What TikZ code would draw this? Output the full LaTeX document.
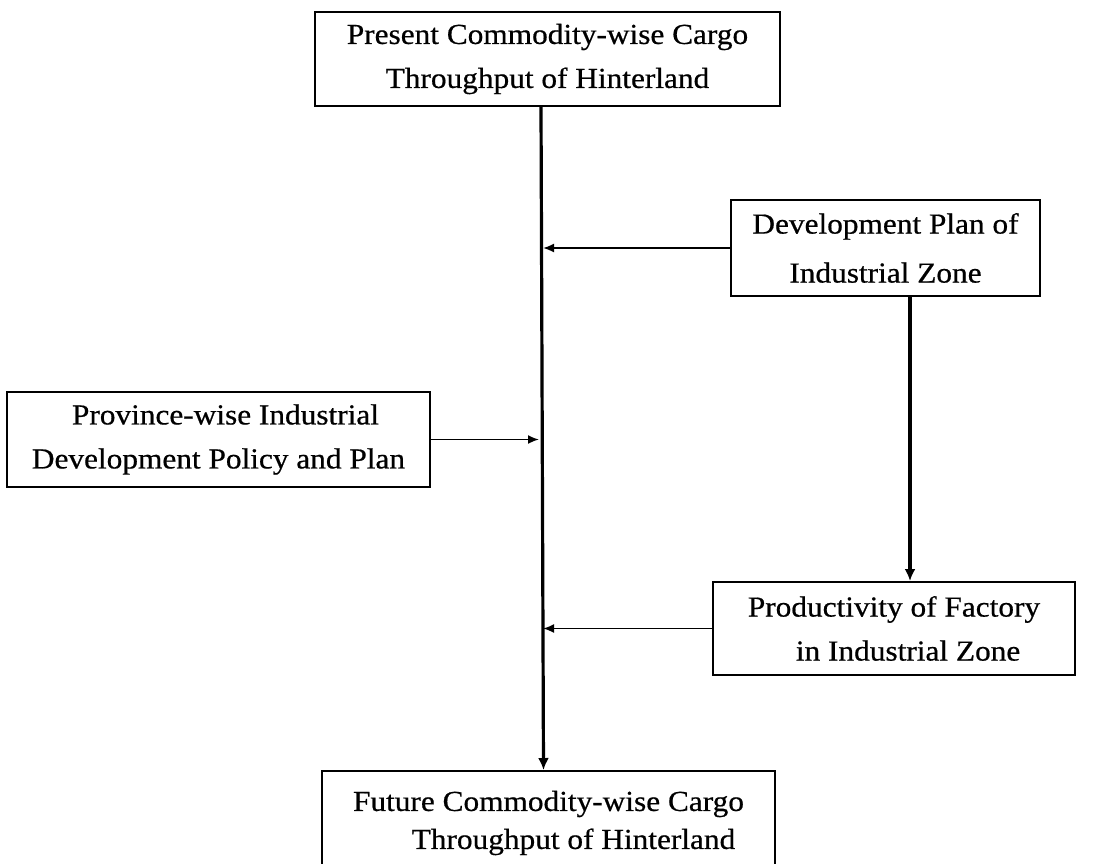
\documentclass[tikz,border=0pt]{standalone}
\usepackage{fontspec}
\setmainfont[FakeStretch=1.08,FakeBold=0.6]{Liberation Serif}
\usetikzlibrary{arrows.meta}
\begin{document}
\begin{tikzpicture}[x=1pt,y=-1pt,
  box/.style={draw,line width=2pt,rectangle,inner sep=0pt,align=center,
    font=\fontsize{29}{44}\selectfont},
  thinarr/.style={line width=1.8pt,-{Latex[length=11pt,width=9pt]}},
  thickarr/.style={line width=3.2pt,-{Latex[length=12pt,width=11pt]}}]
\useasboundingbox (0,0) rectangle (1096,863);
\clip (0,0) rectangle (1096,863);
\node[box,minimum width=465pt,minimum height=94pt] (top) at (547.5,59)
  {Present Commodity-wise Cargo\\Throughput of Hinterland};
\node[box,minimum width=309pt,minimum height=96pt,font=\fontsize{29}{49}\selectfont] (dev) at (885.5,248)
  {Development Plan of\\Industrial Zone};
\node[box,minimum width=423pt,minimum height=95pt] (prov) at (218.5,439.5)
  {\hspace*{14pt}Province-wise Industrial\\Development Policy and Plan};
\node[box,minimum width=362pt,minimum height=93pt,align=left] (prod) at (894,628.5)
  {Productivity of Factory\\\hspace*{48pt}in Industrial Zone};
\node[box,minimum width=453pt,minimum height=104pt,font=\fontsize{29}{38}\selectfont] (bot) at (548.5,823)
  {Future Commodity-wise Cargo\\\hspace*{50pt}Throughput of Hinterland};
\coordinate (mt) at ([xshift=-6.5pt]top.south);
\coordinate (mb) at ([xshift=-5pt]bot.north);
\draw[thickarr] (mt) -- (mb);
\draw[thinarr] (dev.west) -- ([xshift=2pt]dev.west -| mt);
\draw[thinarr] (prov.east) -- ([xshift=-2pt]prov.east -| mt);
\draw[thinarr] (prod.west) -- ([xshift=2pt]prod.west -| mt);
\coordinate (d1) at ([xshift=24.5pt]dev.south);
\draw[thickarr] (d1) -- (d1 |- prod.north);
\end{tikzpicture}
\end{document}
